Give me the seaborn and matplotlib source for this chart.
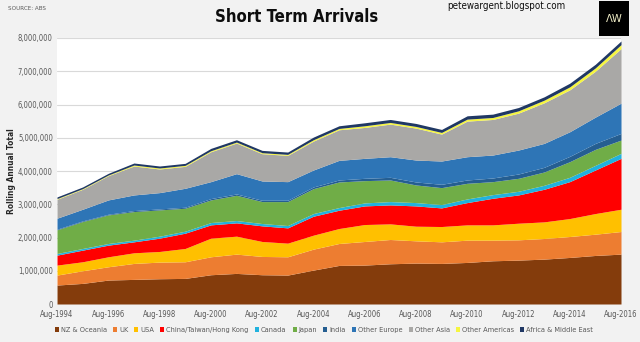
import matplotlib
matplotlib.use("Agg")
import matplotlib.pyplot as plt
from matplotlib.patches import Patch, Rectangle
from matplotlib.ticker import FuncFormatter
import seaborn as sns
import pandas as pd
import numpy as np

# ---- data (millions, rolling annual total, August of each year) ----
years = list(range(1994, 2017))
tick_labels = [f"Aug-{y}" for y in range(1994, 2017, 2)]

names = ["NZ & Oceania", "UK", "USA", "China/Taiwan/Hong Kong", "Canada", "Japan",
         "India", "Other Europe", "Other Asia", "Other Americas", "Africa & Middle East"]

nz_oceania = [0.57, 0.62, 0.72, 0.74, 0.76, 0.77, 0.88, 0.92, 0.88, 0.87, 1.02, 1.16,
              1.17, 1.21, 1.23, 1.22, 1.25, 1.30, 1.32, 1.35, 1.40, 1.46, 1.50]
uk = [0.30, 0.38, 0.40, 0.48, 0.50, 0.50, 0.54, 0.58, 0.55, 0.55, 0.63, 0.66,
      0.71, 0.73, 0.67, 0.65, 0.67, 0.62, 0.61, 0.62, 0.63, 0.64, 0.68]
usa = [0.30, 0.27, 0.30, 0.32, 0.32, 0.40, 0.56, 0.54, 0.45, 0.41, 0.42, 0.45,
       0.51, 0.47, 0.44, 0.46, 0.46, 0.46, 0.50, 0.50, 0.54, 0.62, 0.67]
china = [0.30, 0.35, 0.35, 0.33, 0.40, 0.46, 0.40, 0.40, 0.47, 0.46, 0.57, 0.55,
         0.56, 0.57, 0.61, 0.56, 0.67, 0.80, 0.85, 0.98, 1.11, 1.31, 1.53]
canada = [0.05, 0.05, 0.05, 0.05, 0.06, 0.06, 0.07, 0.07, 0.07, 0.07, 0.08, 0.08,
          0.09, 0.10, 0.10, 0.10, 0.11, 0.11, 0.11, 0.12, 0.13, 0.14, 0.15]
japan = [0.71, 0.81, 0.86, 0.86, 0.79, 0.69, 0.68, 0.76, 0.66, 0.72, 0.75, 0.77,
         0.67, 0.65, 0.53, 0.51, 0.47, 0.39, 0.39, 0.40, 0.47, 0.48, 0.40]
india = [0.02, 0.02, 0.02, 0.03, 0.03, 0.03, 0.04, 0.04, 0.04, 0.04, 0.05, 0.06,
         0.07, 0.08, 0.09, 0.10, 0.10, 0.11, 0.13, 0.14, 0.16, 0.18, 0.20]
other_europe = [0.33, 0.35, 0.43, 0.47, 0.49, 0.57, 0.51, 0.61, 0.58, 0.56, 0.51, 0.59,
                0.60, 0.62, 0.66, 0.70, 0.70, 0.69, 0.72, 0.72, 0.74, 0.79, 0.91]
other_asia = [0.57, 0.60, 0.73, 0.87, 0.71, 0.66, 0.90, 0.92, 0.82, 0.79, 0.87, 0.92,
              0.93, 0.98, 0.96, 0.81, 1.07, 1.07, 1.11, 1.22, 1.26, 1.38, 1.64]
other_americas = [0.02, 0.02, 0.02, 0.03, 0.03, 0.03, 0.03, 0.03, 0.03, 0.03, 0.04, 0.04,
                  0.05, 0.05, 0.05, 0.05, 0.06, 0.06, 0.07, 0.08, 0.09, 0.10, 0.12]
africa_me = [0.05, 0.05, 0.05, 0.06, 0.06, 0.06, 0.07, 0.07, 0.07, 0.07, 0.08, 0.08,
             0.09, 0.09, 0.09, 0.09, 0.10, 0.10, 0.10, 0.10, 0.11, 0.11, 0.11]

colors = ["#843C0C", "#ED7D31", "#FFC000", "#FF0000", "#21B2DE", "#70AD47",
          "#255E91", "#2E75B6", "#A9A8A6", "#F5F540", "#203864"]

series = [nz_oceania, uk, usa, china, canada, japan, india, other_europe,
          other_asia, other_americas, africa_me]

df = pd.DataFrame({n: np.array(s) * 1e6 for n, s in zip(names, series)})
df["date"] = pd.to_datetime([f"{y}-08-01" for y in years])

# ---- style ----
sns.set_theme(style="whitegrid")
plt.rcParams['font.family'] = ['DejaVu Sans']
plt.rcParams['font.stretch'] = 'condensed'

fig = plt.figure(figsize=(6.4, 3.42), dpi=100, facecolor="#F2F2F2")
ax = fig.add_axes([57 / 640, 1 - 304 / 342, (621 - 57) / 640, (304 - 38) / 342])
ax.set_facecolor("white")

ax.stackplot(df["date"], *[df[n] for n in names], colors=colors, labels=names,
             linewidth=0)

ax.set_xlim(df["date"].iloc[0], df["date"].iloc[-1])
ax.set_ylim(0, 8e6)
ax.set_yticks(np.arange(0, 8e6 + 1, 1e6))
ax.yaxis.set_major_formatter(FuncFormatter(lambda v, p: f"{int(v):,}"))
ax.set_xticks(df["date"].iloc[::2])
ax.set_xticklabels(tick_labels)
ax.grid(axis="y", color="#D9D9D9", linewidth=0.8)
ax.grid(axis="x", visible=False)
ax.set_axisbelow(True)
for s in ax.spines.values():
    s.set_visible(False)
ax.tick_params(axis="both", labelsize=5.5, colors="#595959", length=0)
ax.tick_params(axis="x", pad=4)
ax.tick_params(axis="y", pad=3)
fig.text(12 / 640, 1 - 171 / 342, "Rolling Annual Total", rotation=90,
         ha="center", va="center", fontsize=6, fontweight="bold", color="#262626")

# legend
handles = [Patch(facecolor=c, edgecolor="none") for c in colors]
fig.legend(handles, names, loc="center", bbox_to_anchor=(0.506, 0.035), ncol=11,
           frameon=False, fontsize=5.3, handlelength=0.55, handleheight=0.55,
           handletextpad=0.25, columnspacing=0.85, labelcolor="#595959")

# titles / annotations
fig.text(297 / 640, 1 - 17 / 342, "Short Term Arrivals", ha="center", va="center",
         fontsize=12, fontweight="bold", color="#0D0D0D")
fig.text(8 / 640, 1 - 9 / 342, "SOURCE: ABS", ha="left", va="center", fontsize=4.5,
         color="#595959")
fig.text(506 / 640, 1 - 6 / 342, "petewargent.blogspot.com", ha="center", va="center",
         fontsize=7, color="#0D0D0D")
fig.patches.append(Rectangle((599 / 640, 1 - 36 / 342), 30 / 640, 35 / 342,
                             transform=fig.transFigure, facecolor="black",
                             edgecolor="none"))
fig.text(614 / 640, 1 - 19 / 342, "ΛW", ha="center", va="center", fontsize=8,
         color="#F2EFC8")

fig.savefig("out.png", dpi=100, facecolor=fig.get_facecolor())
